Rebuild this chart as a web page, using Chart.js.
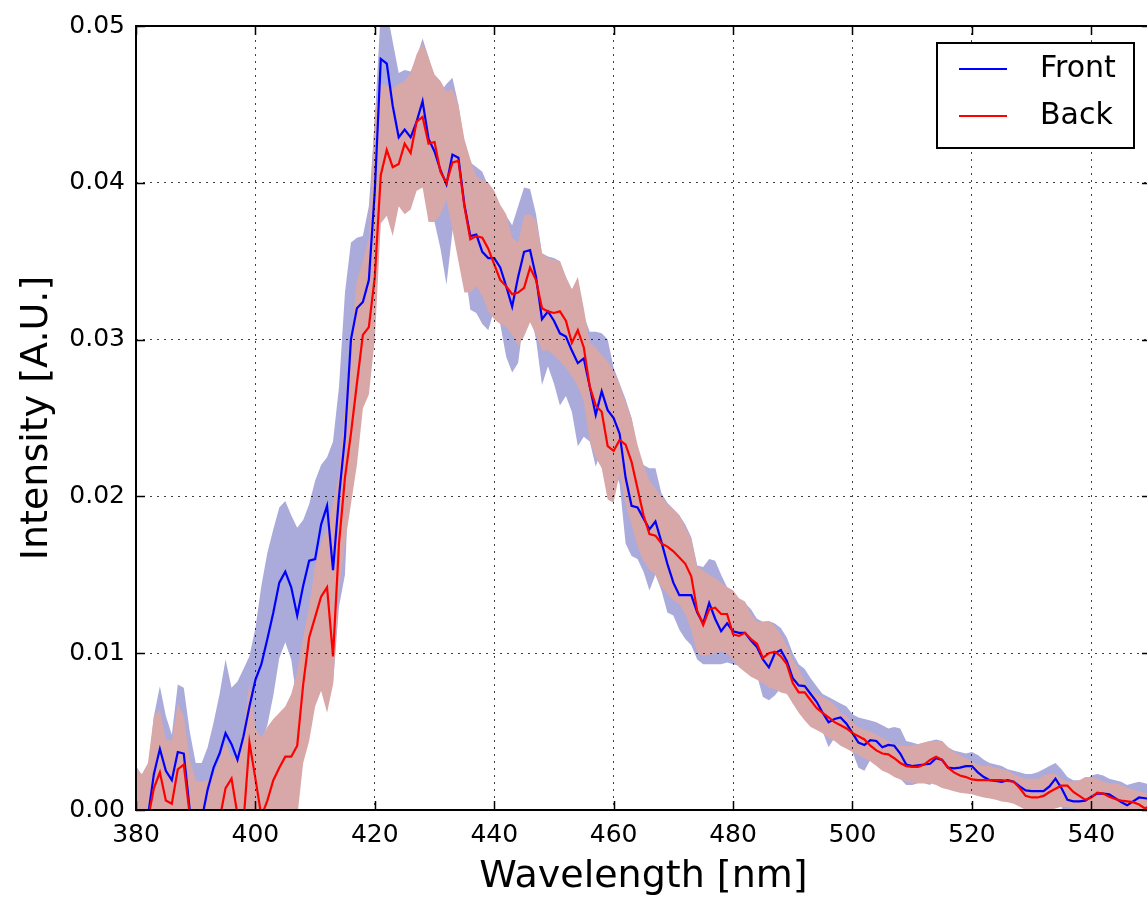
<!DOCTYPE html>
<html>
<head>
<meta charset="utf-8">
<script src="https://cdn.jsdelivr.net/npm/chart.js@4.4.1/dist/chart.umd.min.js"></script>
<style>
  html, body { margin: 0; padding: 0; background: #fff; overflow: hidden; }
  #wrap { width: 1147px; height: 898px; overflow: hidden; }
  canvas { display: block; }
</style>
</head>
<body>
<div id="wrap"><canvas id="c" width="1164" height="898"></canvas></div>
<script>
const wavelengths = [
380,381,382,383,384,385,386,387,388,389,390,391,392,393,394,395,396,397,398,399,
400,401,402,403,404,405,406,407,408,409,410,411,412,413,414,415,416,417,418,419,
420,421,422,423,424,425,426,427,428,429,430,431,432,433,434,435,436,437,438,439,
440,441,442,443,444,445,446,447,448,449,450,451,452,453,454,455,456,457,458,459,
460,461,462,463,464,465,466,467,468,469,470,471,472,473,474,475,476,477,478,479,
480,481,482,483,484,485,486,487,488,489,490,491,492,493,494,495,496,497,498,499,
500,501,502,503,504,505,506,507,508,509,510,511,512,513,514,515,516,517,518,519,
520,521,522,523,524,525,526,527,528,529,530,531,532,533,534,535,536,537,538,539,
540,541,542,543,544,545,546,547,548,549,550];

const frontMean = [
-0.0008,-0.0010,-0.0004,0.0023,0.0039,0.0025,0.0019,0.0037,0.0036,0.0000,
-0.0010,-0.0006,0.0013,0.0027,0.0036,0.0049,0.0042,0.0032,0.0047,0.0066,
0.0083,0.0093,0.0109,0.0126,0.0145,0.0152,0.0142,0.0124,0.0143,0.0159,
0.0160,0.0182,0.0194,0.0153,0.0200,0.0238,0.0300,0.0320,0.0324,0.0338,
0.0395,0.0479,0.0476,0.0449,0.0429,0.0434,0.0429,0.0439,0.0452,0.0428,
0.0420,0.0408,0.0399,0.0418,0.0416,0.0386,0.0366,0.0367,0.0356,0.0352,
0.0352,0.0346,0.0334,0.0321,0.0340,0.0356,0.0357,0.0340,0.0313,0.0318,
0.0312,0.0304,0.0302,0.0293,0.0285,0.0288,0.0270,0.0252,0.0267,0.0255,
0.0250,0.0240,0.0212,0.0194,0.0193,0.0186,0.0179,0.0184,0.0171,0.0157,
0.0145,0.0137,0.0137,0.0137,0.0126,0.0119,0.0132,0.0122,0.0114,0.0119,
0.0114,0.0113,0.0113,0.0108,0.0104,0.0096,0.0091,0.0100,0.0102,0.0095,
0.0084,0.00795,0.0079,0.0074,0.0069,0.0062,0.0056,0.0058,0.0059,0.0055,
0.0049,0.0043,0.00415,0.00445,0.0044,0.0040,0.00415,0.0041,0.0036,0.0029,
0.0028,0.00285,0.0029,0.00295,0.0033,0.0032,0.0027,0.00265,0.0027,0.0028,
0.0028,0.0024,0.0021,0.0019,0.00185,0.0018,0.0019,0.0018,0.0015,0.00125,
0.0012,0.0012,0.0012,0.0015,0.0020,0.0014,0.00065,0.00055,0.00055,0.0006,
0.00085,0.00105,0.00105,0.0010,0.00075,0.0005,0.0003,0.00055,0.0008,0.00075,0.0007];

const frontUpper = [
0.0028,0.0022,0.0023,0.0060,0.0079,0.0060,0.0048,0.0080,0.0078,0.0050,
0.0030,0.0030,0.0040,0.0056,0.0074,0.0096,0.0078,0.0082,0.0090,0.0098,
0.0116,0.0143,0.0164,0.0179,0.0193,0.0197,0.0188,0.0180,0.0185,0.0195,
0.0210,0.0220,0.0225,0.0235,0.0270,0.0330,0.0362,0.0365,0.0366,0.0385,
0.0440,0.0510,0.0510,0.0490,0.0470,0.0472,0.0471,0.0480,0.0492,0.0480,
0.0465,0.0458,0.0463,0.0467,0.0450,0.0425,0.0413,0.0410,0.0407,0.0398,
0.0385,0.0382,0.0379,0.0373,0.0385,0.0397,0.0396,0.0380,0.0355,0.0353,
0.0352,0.0350,0.0340,0.0332,0.0338,0.0315,0.0305,0.0305,0.0304,0.0300,
0.0282,0.0272,0.0262,0.0250,0.0230,0.0220,0.0218,0.0218,0.0202,0.0196,
0.0192,0.0188,0.0182,0.0174,0.0156,0.0155,0.0160,0.0159,0.0150,0.0142,
0.0140,0.0134,0.0132,0.0128,0.0122,0.0120,0.01205,0.0119,0.0116,0.0110,
0.0100,0.0093,0.0090,0.0084,0.0079,0.0074,0.0072,0.0070,0.0068,0.0066,
0.0061,0.0059,0.0058,0.0057,0.0056,0.0054,0.0052,0.0053,0.0052,0.0044,
0.0043,0.0042,0.0043,0.0044,0.0045,0.0044,0.0040,0.0038,0.0037,0.0036,
0.0037,0.0035,0.0032,0.0030,0.0029,0.0028,0.0026,0.0025,0.0024,0.0023,
0.0023,0.0024,0.0026,0.0028,0.0030,0.0026,0.0021,0.0019,0.0019,0.0019,
0.0022,0.0023,0.0022,0.0020,0.0019,0.0018,0.0016,0.0017,0.0018,0.0017,0.0016];

const frontLower = [
-0.0044,-0.0042,-0.0031,-0.0014,0.0000,-0.0010,-0.0010,-0.0006,-0.0006,-0.0050,
-0.0050,-0.0042,-0.0014,-0.0002,-0.0002,0.0002,0.0006,-0.0018,0.0004,0.0034,
0.0050,0.0043,0.0054,0.0073,0.0097,0.0107,0.0096,0.0068,0.0101,0.0123,
0.0110,0.0144,0.0163,0.0080,0.0130,0.0150,0.0238,0.0275,0.0282,0.0291,
0.0350,0.0440,0.0446,0.0408,0.0388,0.0396,0.0387,0.0398,0.0412,0.0376,
0.0375,0.0358,0.0335,0.0369,0.0382,0.0347,0.0319,0.0317,0.0310,0.0306,
0.0319,0.0310,0.0289,0.0279,0.0285,0.0315,0.0318,0.0300,0.0271,0.0283,
0.0272,0.0258,0.0264,0.0254,0.0232,0.0238,0.0235,0.0219,0.0230,0.0210,
0.0218,0.0208,0.0170,0.0162,0.0160,0.0152,0.0140,0.0150,0.0140,0.0126,
0.0124,0.0115,0.0109,0.0105,0.0096,0.0093,0.0093,0.0093,0.0093,0.0094,
0.0093,0.0092,0.0094,0.0088,0.0086,0.0072,0.0070,0.0073,0.0078,0.0080,
0.0068,0.0066,0.0068,0.0064,0.0059,0.0050,0.0040,0.0046,0.0050,0.0044,
0.0037,0.0027,0.0025,0.0032,0.0032,0.0026,0.0031,0.0029,0.0020,0.0016,
0.0016,0.0017,0.0017,0.0016,0.0021,0.0020,0.0014,0.0015,0.0017,0.0020,
0.0019,0.0013,0.0010,0.0008,0.0008,0.0008,0.0012,0.0011,0.0006,0.0002,
0.0001,0.0000,-0.0002,0.0002,0.0010,0.0002,-0.0008,-0.0008,-0.0008,-0.0007,
-0.0005,-0.0002,-0.0001,0.0000,-0.0004,-0.0008,-0.0010,-0.0006,-0.0002,-0.0002,-0.0002];

const backMean = [
-0.0010,-0.0012,-0.0006,0.0014,0.0024,0.0006,0.0004,0.0026,0.0029,-0.0003,
-0.0015,-0.0020,-0.0020,-0.0015,-0.0006,0.0014,0.0020,-0.0003,-0.0008,0.0043,
0.0020,-0.0004,0.0006,0.0019,0.0027,0.0034,0.0034,0.0041,0.0080,0.0110,
0.0123,0.0136,0.0142,0.0098,0.0170,0.0212,0.0240,0.0272,0.0303,0.0308,
0.0340,0.0405,0.0421,0.0410,0.0412,0.0425,0.0419,0.0439,0.0442,0.0425,
0.0426,0.0407,0.0400,0.0413,0.0414,0.0385,0.0364,0.0366,0.0365,0.0358,
0.0348,0.0338,0.0334,0.0329,0.0330,0.0333,0.0346,0.0338,0.0320,0.0318,
0.0317,0.0318,0.0312,0.0298,0.0306,0.0295,0.0270,0.0258,0.0254,0.0232,
0.0229,0.0236,0.0233,0.0222,0.0205,0.0188,0.0176,0.0175,0.0170,0.0168,
0.0165,0.0161,0.0157,0.0149,0.0127,0.0118,0.0128,0.0129,0.0125,0.0125,
0.0112,0.0111,0.0113,0.0109,0.0106,0.0097,0.0100,0.0101,0.0098,0.0093,
0.0081,0.0075,0.0075,0.0070,0.0065,0.0062,0.0059,0.0056,0.0054,0.0052,
0.0049,0.0047,0.0045,0.0041,0.0038,0.0036,0.00355,0.0033,0.0030,0.0028,
0.00275,0.00275,0.0029,0.0032,0.0034,0.0032,0.0027,0.0024,0.0022,0.0021,
0.00195,0.0019,0.0019,0.0019,0.0019,0.0019,0.00185,0.0018,0.0014,0.0009,
0.0008,0.0008,0.0009,0.00115,0.00135,0.00155,0.00155,0.00115,0.0009,0.00065,
0.0008,0.0011,0.00105,0.00085,0.0007,0.0006,0.00055,0.0005,0.00035,0.0001,0.0003];

const backUpper = [
0.0026,0.0023,0.0030,0.0060,0.0064,0.0045,0.0044,0.0068,0.0060,0.0032,
0.0019,0.0018,0.0019,0.0023,0.0032,0.0044,0.0033,0.0036,0.0050,0.0082,
0.0052,0.0046,0.0053,0.0058,0.0062,0.0066,0.0074,0.0088,0.0110,0.0130,
0.0156,0.0170,0.0180,0.0195,0.0215,0.0258,0.0300,0.0338,0.0350,0.0365,
0.0445,0.0463,0.0462,0.0460,0.0463,0.0465,0.0470,0.0482,0.0489,0.0480,
0.0469,0.0465,0.0458,0.0460,0.0450,0.0428,0.0415,0.0404,0.0402,0.0400,
0.0395,0.0386,0.0380,0.0365,0.0362,0.0379,0.0380,0.0376,0.0355,0.0352,
0.0351,0.0350,0.0340,0.0332,0.0340,0.0320,0.0298,0.0295,0.0290,0.0286,
0.0280,0.0271,0.0260,0.0250,0.0233,0.0220,0.0210,0.0205,0.0200,0.0195,
0.0192,0.0188,0.0180,0.0173,0.0155,0.0153,0.0150,0.0148,0.0145,0.0142,
0.0140,0.0135,0.0133,0.0125,0.0120,0.0120,0.01205,0.0117,0.0112,0.0105,
0.0096,0.0090,0.0082,0.0076,0.0074,0.0072,0.0070,0.0067,0.0062,0.0060,
0.0056,0.0053,0.0051,0.0050,0.0048,0.0046,0.0044,0.0042,0.0041,0.0041,
0.0041,0.0042,0.0043,0.0044,0.0044,0.0044,0.0040,0.0037,0.0035,0.0033,
0.0031,0.0029,0.0028,0.0028,0.0027,0.0026,0.0025,0.0023,0.0021,0.0020,
0.0020,0.0020,0.0022,0.0023,0.0023,0.0020,0.0018,0.0018,0.0019,0.0021,
0.0021,0.0020,0.0018,0.0017,0.0017,0.0016,0.0014,0.0013,0.0012,0.0011,0.00105];

const backLower = [
-0.0045,-0.0045,-0.0040,-0.0030,-0.0015,-0.0030,-0.0035,-0.0015,-0.0005,-0.0035,
-0.0050,-0.0055,-0.0055,-0.0050,-0.0045,-0.0015,-0.0005,-0.0040,-0.0060,-0.0005,
-0.0012,-0.0050,-0.0040,-0.0020,-0.0008,-0.0005,-0.0006,-0.0005,0.0030,0.0044,
0.0066,0.0076,0.0062,0.0080,0.0140,0.0170,0.0195,0.0220,0.0256,0.0265,
0.0300,0.0374,0.0379,0.0366,0.0385,0.0380,0.0383,0.0395,0.0397,0.0375,
0.0375,0.0380,0.0389,0.0370,0.0350,0.0330,0.0330,0.0334,0.0328,0.0318,
0.0313,0.0310,0.0308,0.0303,0.0296,0.0302,0.0311,0.0303,0.0293,0.0293,
0.0290,0.0286,0.0282,0.0277,0.0270,0.0261,0.0235,0.0225,0.0218,0.0198,
0.0196,0.0215,0.0195,0.0182,0.0168,0.0159,0.0153,0.0150,0.0142,0.0138,
0.0134,0.0131,0.0125,0.0115,0.0100,0.0098,0.0099,0.0100,0.0101,0.0100,
0.0096,0.0091,0.0088,0.0085,0.0083,0.0081,0.0078,0.0077,0.0075,0.0074,
0.0068,0.0062,0.0057,0.0053,0.0051,0.0049,0.0046,0.0044,0.0041,0.0039,
0.0037,0.0035,0.0033,0.0031,0.0028,0.0025,0.00235,0.0021,0.00195,0.0018,
0.00175,0.0017,0.0017,0.0017,0.0016,0.0014,0.0013,0.0012,0.0011,0.00105,
0.0010,0.0009,0.0008,0.00074,0.00065,0.00055,0.0005,0.0004,0.0002,0.0000,
-0.0002,-0.0003,-0.0002,0.0000,0.0001,0.0002,0.0002,0.0001,0.0000,-0.0003,
-0.0004,-0.0002,-0.0001,-0.0003,-0.0005,-0.0006,-0.0006,-0.0006,-0.0007,-0.0008,-0.0006];

const seriesLabels = ['Front', 'Back'];
const xTickStep = 20;
const yTickStep = 0.01;
const xTitle = 'Wavelength [nm]';
const yTitle = 'Intensity [A.U.]';

const pts = arr => arr.map((v, i) => ({ x: wavelengths[i], y: v }));
const FONT = 'DejaVu Sans';

const frameAndLegend = {
  id: 'frameAndLegend',
  afterDraw(chart) {
    const { ctx, chartArea: a, scales: { x, y } } = chart;
    ctx.save();
    ctx.setLineDash([]);
    ctx.strokeStyle = '#000';
    ctx.lineWidth = 1.5;
    ctx.beginPath();
    x.ticks.forEach(t => {
      const px = Math.round(x.getPixelForValue(t.value)) + 0.5;
      ctx.moveTo(px, a.bottom); ctx.lineTo(px, a.bottom - 9);
      ctx.moveTo(px, a.top); ctx.lineTo(px, a.top + 9);
    });
    y.ticks.forEach(t => {
      const py = Math.round(y.getPixelForValue(t.value)) + 0.5;
      ctx.moveTo(a.left, py); ctx.lineTo(a.left + 9, py);
      ctx.moveTo(a.right, py); ctx.lineTo(a.right - 9, py);
    });
    ctx.stroke();
    ctx.lineWidth = 2;
    ctx.strokeRect(a.left, a.top, a.right - a.left, a.bottom - a.top);
    const bw = 197, bh = 105;
    const bx = a.right - 214, by = a.top + 17;
    ctx.fillStyle = '#fff';
    ctx.fillRect(bx, by, bw, bh);
    ctx.lineWidth = 2;
    ctx.strokeRect(bx, by, bw, bh);
    const items = chart.data.datasets.filter(d => seriesLabels.includes(d.label));
    ctx.font = '30px "' + FONT + '"';
    ctx.textBaseline = 'middle';
    ctx.textAlign = 'left';
    items.forEach((d, i) => {
      const ly = by + 26 + i * 47;
      ctx.strokeStyle = d.borderColor;
      ctx.lineWidth = 2;
      ctx.beginPath();
      ctx.moveTo(bx + 22, ly); ctx.lineTo(bx + 70, ly);
      ctx.stroke();
      ctx.fillStyle = '#000';
      ctx.fillText(d.label, bx + 103, ly);
    });
    ctx.restore();
  }
};

new Chart(document.getElementById('c'), {
  type: 'line',
  data: {
    datasets: [
      { label: 'frontUpper', data: pts(frontUpper), borderWidth: 0, pointRadius: 0,
        backgroundColor: 'rgb(170,170,219)', fill: { target: 1 }, order: 4, clip: 0, tension: 0 },
      { label: 'frontLower', data: pts(frontLower), borderWidth: 0, pointRadius: 0,
        fill: false, order: 5, clip: 0, tension: 0 },
      { label: 'backUpper', data: pts(backUpper), borderWidth: 0, pointRadius: 0,
        backgroundColor: 'rgb(216,168,168)', fill: { target: 3 }, order: 2, clip: 0, tension: 0 },
      { label: 'backLower', data: pts(backLower), borderWidth: 0, pointRadius: 0,
        fill: false, order: 3, clip: 0, tension: 0 },
      { label: seriesLabels[0], data: pts(frontMean), borderColor: '#0000ff', borderWidth: 2.2,
        pointRadius: 0, fill: false, order: 1, clip: 0, tension: 0 },
      { label: seriesLabels[1], data: pts(backMean), borderColor: '#ff0000', borderWidth: 2.2,
        pointRadius: 0, fill: false, order: 0, clip: 0, tension: 0 }
    ]
  },
  options: {
    responsive: false,
    animation: false,
    devicePixelRatio: 1,
    layout: { padding: { top: 23, right: 13, left: 0, bottom: 0 } },
    plugins: { legend: { display: false }, tooltip: { enabled: false } },
    scales: {
      x: {
        type: 'linear', min: 380, max: 550,
        afterFit: s => { s.height = 88; },
        ticks: { stepSize: xTickStep, includeBounds: false, padding: 10, color: '#000',
                 maxRotation: 0, autoSkip: false, font: { family: FONT, size: 25 } },
        grid: { color: 'rgba(0,0,0,0.75)', lineWidth: 1, drawTicks: false, z: 1 },
        border: { display: false, dash: [2, 5] },
        title: { display: true, text: xTitle, color: '#000', padding: 0,
                 font: { family: FONT, size: 38, lineHeight: 1.1 } }
      },
      y: {
        type: 'linear', min: 0, max: 0.05,
        afterFit: s => { s.width = 136; },
        ticks: { stepSize: yTickStep, padding: 11, color: '#000',
                 font: { family: FONT, size: 25 }, callback: v => Number(v).toFixed(2) },
        grid: { color: 'rgba(0,0,0,0.75)', lineWidth: 1, drawTicks: false, z: 1 },
        border: { display: false, dash: [2, 5] },
        title: { display: true, text: yTitle, color: '#000', padding: { top: 14, bottom: 0 },
                 font: { family: FONT, size: 38, lineHeight: 1.2 } }
      }
    }
  },
  plugins: [frameAndLegend]
});
</script>
</body>
</html>
